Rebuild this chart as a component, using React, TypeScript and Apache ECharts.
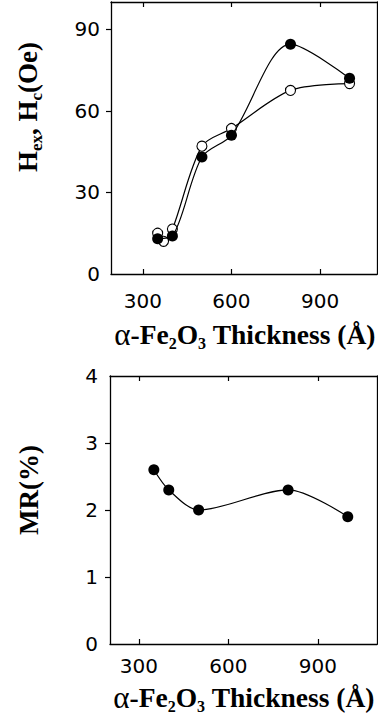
import React, { useEffect, useRef } from "react";
import * as echarts from "echarts";

// Top panel: exchange field (filled) and coercivity (open) vs α-Fe2O3 thickness
const hexThickness = [350, 400, 500, 600, 800, 1000];
const hexValues = [13, 14, 43, 51, 84.5, 72];
const hcThickness = [350, 370, 400, 500, 600, 800, 1000];
const hcValues = [15, 12, 16.5, 47, 53.5, 67.5, 70];

// Bottom panel: MR vs thickness
const mrThickness = [350, 400, 500, 800, 1000];
const mrValues = [2.6, 2.3, 2.0, 2.3, 1.9];

const xTicks = [300, 600, 900];
const topYLabels = [0, 30, 60, 90];
const topYTicks = [30, 60, 90];
const botYLabels = [0, 1, 2, 3, 4];
const botYTicks = [1, 2, 3];

const SERIF = "'Liberation Serif', 'Times New Roman', serif";
const SANS = "'DejaVu Sans', 'Liberation Sans', sans-serif";

export default function App() {
  const ref = useRef<HTMLDivElement>(null);
  useEffect(() => {
    if (!ref.current) return;
    const chart = echarts.init(ref.current, undefined, { renderer: "svg" });
    const pair = (xs: number[], ys: number[]) => xs.map((x, i) => [x, ys[i]]);

    const titleRich = {
      a: { fontFamily: SERIF, fontSize: 31, lineHeight: 34, color: "#000" },
      b: { fontFamily: SERIF, fontWeight: "bold", fontSize: 27.5, lineHeight: 34, color: "#000" },
      s: { fontFamily: SERIF, fontWeight: "bold", fontSize: 16, lineHeight: 13, color: "#000", verticalAlign: "bottom" },
    };
    const yRich = {
      b: { fontFamily: SERIF, fontWeight: "bold", fontSize: 27, lineHeight: 34, color: "#000" },
      s: { fontFamily: SERIF, fontWeight: "bold", fontSize: 17, lineHeight: 14, color: "#000", verticalAlign: "bottom" },
    };

    const xAxisBase = (gridIndex: number, min: number, max: number, margin: number) => [
      {
        type: "value",
        gridIndex,
        min,
        max,
        position: "bottom",
        axisLine: { show: true, onZero: false, lineStyle: { color: "#000", width: 1.3 } },
        axisTick: { show: true, inside: true, length: 5, customValues: xTicks, lineStyle: { color: "#000", width: 1.2 } },
        axisLabel: { show: true, customValues: xTicks, margin, fontSize: 20, fontFamily: SANS, color: "#000" },
        splitLine: { show: false },
      },
      {
        type: "value",
        gridIndex,
        min,
        max,
        position: "top",
        axisLine: { show: true, onZero: false, lineStyle: { color: "#000", width: 1.3 } },
        axisTick: { show: true, inside: true, length: 5, customValues: xTicks, lineStyle: { color: "#000", width: 1.2 } },
        axisLabel: { show: false },
        splitLine: { show: false },
      },
    ];
    const yAxisBase = (gridIndex: number, min: number, max: number, labels: number[], ticks: number[], margin: number) => [
      {
        type: "value",
        gridIndex,
        min,
        max,
        position: "left",
        axisLine: { show: true, onZero: false, lineStyle: { color: "#000", width: 1.3 } },
        axisTick: { show: true, inside: false, length: 5, customValues: ticks, lineStyle: { color: "#000", width: 1.2 } },
        axisLabel: { show: true, customValues: labels, margin, fontSize: 20, fontFamily: SANS, color: "#000" },
        splitLine: { show: false },
      },
      {
        type: "value",
        gridIndex,
        min,
        max,
        position: "right",
        axisLine: { show: true, onZero: false, lineStyle: { color: "#000", width: 1.3 } },
        axisTick: { show: false },
        axisLabel: { show: false },
        splitLine: { show: false },
      },
    ];

    const lineStyle = { color: "#000", width: 1.2 };

    chart.setOption({
      animation: false,
      backgroundColor: "#fff",
      grid: [
        { left: 111, top: 2, width: 266, height: 272 },
        { left: 110, top: 376, width: 267, height: 268 },
      ],
      xAxis: [...xAxisBase(0, 192, 1093, 17), ...xAxisBase(1, 203, 1098, 12)],
      yAxis: [
        ...yAxisBase(0, 0, 100, topYLabels, topYTicks, 11),
        ...yAxisBase(1, 0, 4, botYLabels, botYTicks, 12),
      ],
      series: [
        {
          type: "line",
          xAxisIndex: 0,
          yAxisIndex: 0,
          data: pair(hcThickness, hcValues),
          smooth: 0.3,
          symbol: "circle",
          symbolSize: 10,
          z: 2,
          lineStyle,
          itemStyle: { color: "#fff", borderColor: "#000", borderWidth: 1.1 },
        },
        {
          type: "line",
          xAxisIndex: 0,
          yAxisIndex: 0,
          data: pair(hexThickness, hexValues),
          smooth: 0.3,
          symbol: "circle",
          symbolSize: 11,
          z: 3,
          lineStyle,
          itemStyle: { color: "#000", borderColor: "#000", borderWidth: 0 },
        },
        {
          type: "line",
          xAxisIndex: 2,
          yAxisIndex: 2,
          data: pair(mrThickness, mrValues),
          smooth: 0.3,
          symbol: "circle",
          symbolSize: 11,
          z: 3,
          lineStyle,
          itemStyle: { color: "#000", borderColor: "#000", borderWidth: 0 },
        },
      ],
      graphic: [
        {
          type: "text",
          x: 28,
          y: 107,
          rotation: Math.PI / 2,
          style: {
            text: "{b|H}{s|ex}{b|, H}{s|c}{b|(Oe)}",
            rich: yRich,
            align: "center",
            verticalAlign: "middle",
          },
        },
        {
          type: "text",
          x: 29,
          y: 490,
          rotation: Math.PI / 2,
          style: {
            text: "{b|MR(%)}",
            rich: yRich,
            align: "center",
            verticalAlign: "middle",
          },
        },
        {
          type: "text",
          x: 245,
          y: 334,
          style: {
            text: "{a|α}{b|-Fe}{s|2}{b|O}{s|3}{b| Thickness (Å)}",
            rich: titleRich,
            align: "center",
            verticalAlign: "middle",
          },
        },
        {
          type: "text",
          x: 244,
          y: 697,
          style: {
            text: "{a|α}{b|-Fe}{s|2}{b|O}{s|3}{b| Thickness (Å)}",
            rich: titleRich,
            align: "center",
            verticalAlign: "middle",
          },
        },
      ],
    });
    return () => chart.dispose();
  }, []);
  return (
    <div
      ref={ref}
      style={{ position: "absolute", left: 0, top: 0, width: 378, height: 717 }}
    />
  );
}
